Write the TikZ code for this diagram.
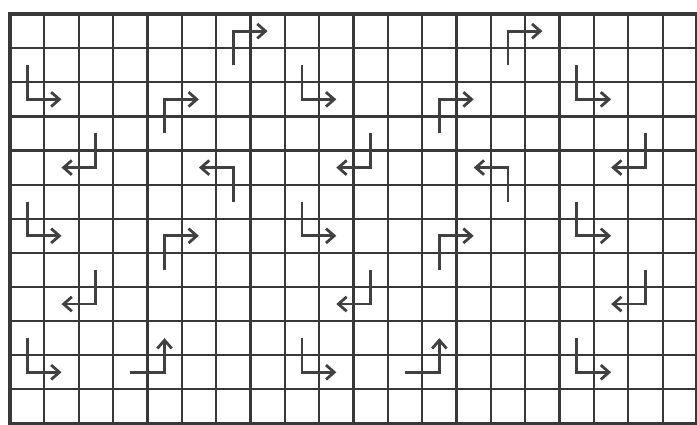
\documentclass[tikz,border=0pt]{standalone}
\usetikzlibrary{arrows.meta}
\begin{document}
\begin{tikzpicture}[
            x=1cm, y=0.993cm,
            gridline/.style = {draw = black!78, line width = 1.9pt},
            turnarrow/.style = {
                draw = black!75,
                line width = 2.3pt,
                -{Straight Barb[length=2.4mm, width=4.2mm]}
            }
        ]
            \useasboundingbox (-0.79,0.913) rectangle (19.5,-11.54);
            \fill[white] (-0.79,0.913) rectangle (19.5,-11.54);
            \foreach \x in {-0.5,0.5,...,19.5}
                \draw[gridline] (\x,0.5) -- (\x,-11.5);
            \foreach \y in {0.5,-0.5,...,-11.5}
                \draw[gridline] (-0.5,\y) -- (19.5,\y);
            \draw[gridline, line width = 2.8pt] (-0.5,0.5) rectangle (19.5,-11.5);
            \foreach \ax/\ay/\bx/\by/\cx/\cy in {
                6/1/6/0/7/0, 0/1/0/2/1/2, 4/3/4/2/5/2, 2/3/2/4/1/4, 6/5/6/4/5/4,
                8/1/8/2/9/2, 14/1/14/0/15/0, 16/1/16/2/17/2, 12/3/12/2/13/2,
                10/3/10/4/9/4, 14/5/14/4/13/4, 18/3/18/4/17/4,
                0/5/0/6/1/6, 4/7/4/6/5/6, 2/7/2/8/1/8, 0/9/0/10/1/10,
                3/10/4/10/4/9, 8/5/8/6/9/6, 10/7/10/8/9/8, 8/9/8/10/9/10,
                12/7/12/6/13/6, 16/5/16/6/17/6, 18/7/18/8/17/8,
                11/10/12/10/12/9, 16/9/16/10/17/10}
                \draw[turnarrow] (\ax,-\ay) -- (\bx,-\by) -- (\cx,-\cy);
        \end{tikzpicture}
\end{document}
